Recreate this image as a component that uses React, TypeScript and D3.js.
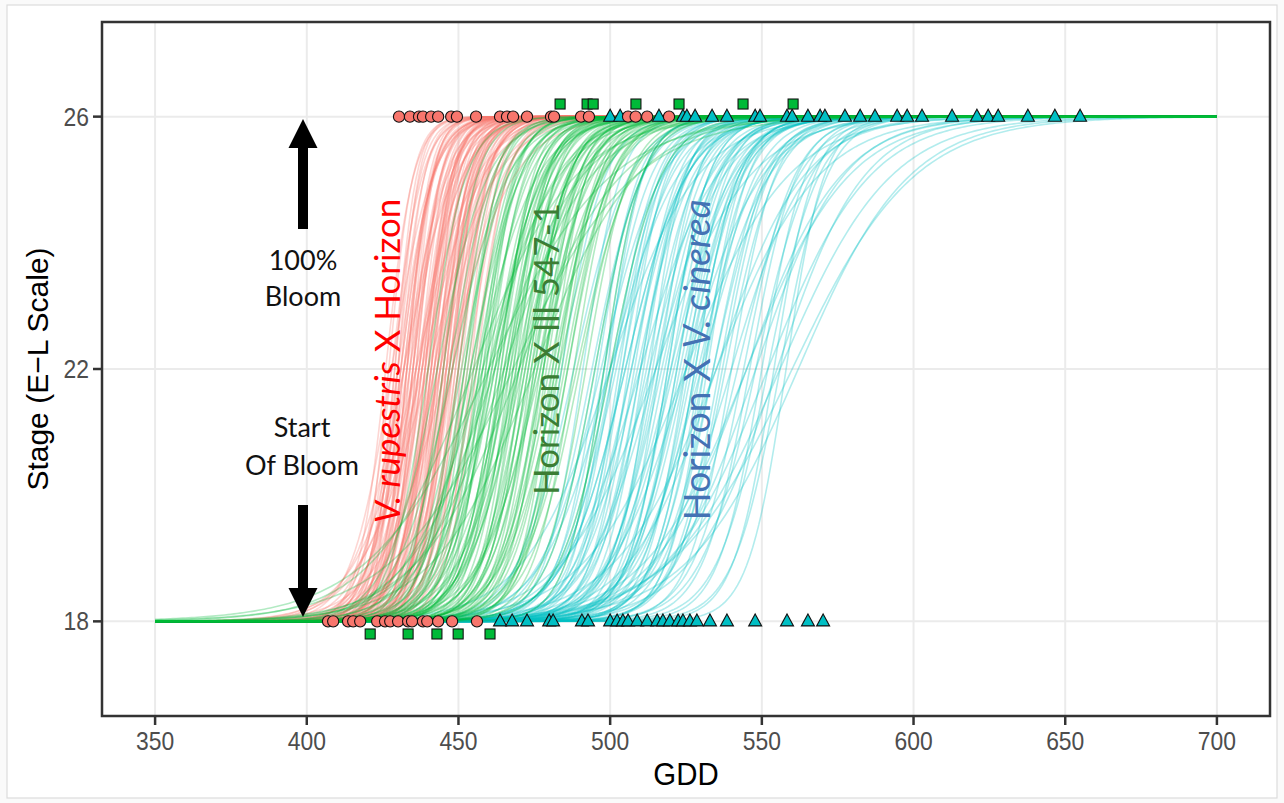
import React from "react";
import * as d3 from "d3";

// ---------- axes ----------
const xTickValues = [350, 400, 450, 500, 550, 600, 650, 700];
const yTickValues = [18, 22, 26];
const xTitle = "GDD";
const yTitle = "Stage (E\u2212L Scale)";

// ---------- observed points (GDD) ----------
const START_STAGE = 18;
const FULL_STAGE = 26;
const ILL_START_STAGE = 17.8;
const ILL_FULL_STAGE = 26.2;

const rupestrisFullGDD = [430.4, 434.0, 437.0, 438.3, 441.0, 443.3, 447.6, 449.5, 455.8, 463.7, 466.0, 468.0, 472.6, 480.5, 481.5, 490.4, 493.0, 505.9, 508.4, 512.2, 519.4];
const rupestrisStartGDD = [407.0, 408.7, 413.6, 415.3, 417.6, 423.2, 425.8, 427.5, 430.1, 433.4, 434.7, 438.3, 439.7, 443.3, 447.9, 456.1];
const illFullGDD = [483.5, 492.4, 494.4, 508.5, 522.7, 543.8, 560.3];
const illStartGDD = [420.9, 433.4, 442.9, 449.9, 460.4];
const cinereaFullGDD = [500.0, 503.3, 516.1, 524.0, 525.3, 528.0, 533.6, 538.5, 547.8, 549.4, 558.3, 560.0, 565.2, 569.2, 570.8, 577.4, 582.4, 587.3, 594.6, 597.9, 602.8, 612.7, 620.9, 624.6, 627.9, 637.7, 646.6, 654.9];
const cinereaStartGDD = [463.7, 467.7, 472.6, 479.9, 481.2, 490.7, 492.7, 500.0, 502.3, 504.2, 505.9, 508.9, 512.2, 515.5, 517.4, 519.7, 522.4, 524.0, 526.3, 528.6, 532.9, 538.5, 547.8, 558.3, 565.2, 570.2];

// ---------- fitted curve draws: GDD at stage 22 and logistic rate ----------
const rupestrisMid = [
  426, 427, 428, 428, 429, 430, 430, 431, 431, 432, 432, 433, 433, 434, 434, 435, 435, 436, 436, 437,
  437, 438, 438, 439, 439, 440, 440, 441, 441, 442, 442, 443, 443, 444, 444, 445, 445, 446, 446, 447,
  447, 448, 448, 449, 450, 450, 451, 452, 453, 454, 455, 456, 436, 440, 444, 432, 438, 446, 442, 448,
  429, 431, 433, 435, 437, 439, 441, 443, 445, 447, 449, 430, 432, 434, 436, 438, 440, 442, 444, 446,
  448, 450, 435, 437, 439, 441, 443, 445, 433, 447,
];
const rupestrisRate = [
  0.22, 0.25, 0.15, 0.2, 0.28, 0.17, 0.23, 0.19, 0.26, 0.14, 0.21, 0.24, 0.16, 0.2, 0.27, 0.18, 0.22, 0.13, 0.25, 0.19,
  0.23, 0.17, 0.21, 0.26, 0.15, 0.2, 0.24, 0.18, 0.22, 0.16, 0.28, 0.19, 0.23, 0.14, 0.21, 0.25, 0.17, 0.2, 0.24, 0.18,
  0.22, 0.15, 0.26, 0.19, 0.21, 0.17, 0.23, 0.2, 0.16, 0.22, 0.18, 0.2, 0.1, 0.09, 0.11, 0.12, 0.1, 0.09, 0.13, 0.12,
  0.24, 0.19, 0.27, 0.21, 0.16, 0.23, 0.18, 0.25, 0.2, 0.17, 0.22, 0.29, 0.2, 0.15, 0.24, 0.19, 0.26, 0.17, 0.21, 0.23,
  0.18, 0.2, 0.3, 0.14, 0.22, 0.27, 0.16, 0.19, 0.25, 0.21,
];

const illMid = [
  440, 443, 445, 447, 448, 450, 451, 452, 453, 454, 455, 456, 456, 457, 458, 459, 460, 460, 461, 462,
  463, 464, 465, 465, 466, 467, 468, 469, 470, 470, 471, 472, 473, 474, 475, 475, 476, 477, 478, 479,
  480, 481, 482, 483, 484, 486, 488, 490, 492, 495, 498, 500, 455, 460, 465, 470, 458, 462, 468, 475,
  452, 454, 457, 459, 461, 463, 466, 468, 471, 473, 476, 478, 481, 483, 486, 458, 462, 466, 470, 474,
  478, 482, 464, 467, 469, 472, 460, 477, 485, 489,
];
const illRate = [
  0.16, 0.12, 0.18, 0.14, 0.11, 0.17, 0.13, 0.15, 0.19, 0.12, 0.16, 0.14, 0.1, 0.18, 0.13, 0.15, 0.11, 0.17, 0.14, 0.12,
  0.16, 0.19, 0.13, 0.15, 0.11, 0.17, 0.14, 0.12, 0.16, 0.1, 0.18, 0.13, 0.15, 0.12, 0.17, 0.14, 0.11, 0.16, 0.13, 0.15,
  0.12, 0.18, 0.14, 0.11, 0.16, 0.13, 0.15, 0.12, 0.14, 0.13, 0.16, 0.12, 0.06, 0.05, 0.07, 0.06, 0.08, 0.07, 0.05, 0.06,
  0.17, 0.13, 0.15, 0.2, 0.12, 0.16, 0.14, 0.18, 0.11, 0.15, 0.13, 0.17, 0.12, 0.16, 0.14, 0.19, 0.13, 0.15, 0.12, 0.17,
  0.14, 0.13, 0.16, 0.12, 0.18, 0.14, 0.09, 0.1, 0.13, 0.11,
];

const cinereaMid = [
  484, 488, 491, 494, 496, 497, 498, 499, 500, 501, 502, 503, 504, 505, 506, 507, 508, 509, 510, 511,
  512, 513, 514, 515, 516, 517, 518, 519, 520, 521, 522, 523, 524, 525, 526, 527, 528, 529, 530, 531,
  532, 534, 536, 538, 540, 542, 544, 546, 548, 550, 552, 554, 556, 558, 500, 515, 525, 535, 545, 555,
  495, 498, 501, 504, 507, 510, 513, 516, 519, 522, 525, 528, 531, 534, 537, 500, 505, 510, 515, 520,
  525, 530, 540, 548, 552, 556, 560, 562, 545, 535,
];
const cinereaRate = [
  0.14, 0.11, 0.16, 0.12, 0.15, 0.1, 0.13, 0.17, 0.12, 0.14, 0.11, 0.15, 0.13, 0.1, 0.16, 0.12, 0.14, 0.11, 0.13, 0.15,
  0.12, 0.1, 0.14, 0.13, 0.16, 0.11, 0.12, 0.15, 0.13, 0.1, 0.14, 0.12, 0.11, 0.15, 0.13, 0.12, 0.14, 0.1, 0.13, 0.12,
  0.15, 0.11, 0.13, 0.12, 0.14, 0.1, 0.12, 0.13, 0.11, 0.14, 0.12, 0.15, 0.13, 0.16, 0.07, 0.065, 0.06, 0.06, 0.065, 0.07,
  0.13, 0.16, 0.12, 0.15, 0.11, 0.14, 0.17, 0.12, 0.15, 0.13, 0.11, 0.14, 0.16, 0.12, 0.13, 0.09, 0.1, 0.08, 0.09, 0.1,
  0.08, 0.09, 0.08, 0.07, 0.06, 0.055, 0.05, 0.055, 0.06, 0.07,
];

const GDD_MIN = 350;
const GDD_MAX = 700;

const RED = "#F8766D";
const GREEN = "#00BA38";
const CYAN = "#00BFC4";

// ---------- layout ----------
const W = 1284;
const H = 803;
const P = { left: 102, right: 1270, top: 22, bottom: 716 };

const x = d3.scaleLinear().domain([332.5, 717.5]).range([P.left, P.right]);
const y = d3.scaleLinear().domain([16.5, 27.5]).range([P.bottom, P.top]);

const samples = d3.range(GDD_MIN, GDD_MAX + 0.001, 1);
const logistic = (g: number, m: number, k: number) =>
  START_STAGE + (FULL_STAGE - START_STAGE) / (1 + Math.exp(-k * (g - m)));

function curvePath(m: number, k: number) {
  return d3
    .line<number>()
    .x((g) => x(g))
    .y((g) => y(logistic(g, m, k)))(samples) as string;
}

function Curves({ mids, rates, color }: { mids: number[]; rates: number[]; color: string }) {
  return (
    <g fill="none" stroke={color} strokeOpacity={0.3} strokeWidth={1.6}>
      {mids.map((m, i) => (
        <path key={i} d={curvePath(m, rates[i])} />
      ))}
    </g>
  );
}

function Tri({ cx, cy }: { cx: number; cy: number }) {
  const w = 13;
  const h = 12;
  const d = `M${cx},${cy - h * 0.62}L${cx + w / 2},${cy + h * 0.38}L${cx - w / 2},${cy + h * 0.38}Z`;
  return <path d={d} fill={CYAN} stroke="#111" strokeWidth={1.1} />;
}

const tickFont = "'Liberation Sans', Arial, sans-serif";
const annFont = "Lato, 'Open Sans', sans-serif";

export default function App() {
  return (
    <svg
      width={W}
      height={H}
      style={{ position: "absolute", left: 0, top: 0, display: "block" }}
    >
      <rect x={0} y={0} width={W} height={H} fill="#fafafa" />
      <rect x={7} y={5} width={1270} height={793} fill="#ffffff" stroke="#dcdcdc" strokeWidth={1.2} />
      <defs>
        <clipPath id="panel">
          <rect x={P.left} y={P.top} width={P.right - P.left} height={P.bottom - P.top} />
        </clipPath>
      </defs>

      {/* grid */}
      <g stroke="#ebebeb" strokeWidth={2}>
        {xTickValues.map((t) => (
          <line key={t} x1={x(t)} x2={x(t)} y1={P.top} y2={P.bottom} />
        ))}
        {yTickValues.map((t) => (
          <line key={t} x1={P.left} x2={P.right} y1={y(t)} y2={y(t)} />
        ))}
      </g>

      <g clipPath="url(#panel)">
        <Curves mids={rupestrisMid} rates={rupestrisRate} color={RED} />
        <Curves mids={cinereaMid} rates={cinereaRate} color={CYAN} />
        <Curves mids={illMid} rates={illRate} color={GREEN} />
      </g>

      {/* points */}
      <g>
        {cinereaFullGDD.map((g, i) => (
          <Tri key={"cf" + i} cx={x(g)} cy={y(FULL_STAGE)} />
        ))}
        {cinereaStartGDD.map((g, i) => (
          <Tri key={"cs" + i} cx={x(g)} cy={y(START_STAGE)} />
        ))}
        {rupestrisFullGDD.map((g, i) => (
          <circle key={"rf" + i} cx={x(g)} cy={y(FULL_STAGE)} r={5.6} fill={RED} stroke="#111" strokeWidth={1.1} />
        ))}
        {rupestrisStartGDD.map((g, i) => (
          <circle key={"rs" + i} cx={x(g)} cy={y(START_STAGE)} r={5.6} fill={RED} stroke="#111" strokeWidth={1.1} />
        ))}
        {illFullGDD.map((g, i) => (
          <rect key={"if" + i} x={x(g) - 5} y={y(ILL_FULL_STAGE) - 5} width={10} height={10} fill={GREEN} stroke="#111" strokeWidth={1.1} />
        ))}
        {illStartGDD.map((g, i) => (
          <rect key={"is" + i} x={x(g) - 5} y={y(ILL_START_STAGE) - 5} width={10} height={10} fill={GREEN} stroke="#111" strokeWidth={1.1} />
        ))}
      </g>

      {/* arrows */}
      <path d="M303,119L317.5,148L308,148L308,229L298,229L298,148L288.5,148Z" fill="#000" />
      <path d="M303,617L317.5,588L308,588L308,505L298,505L298,588L288.5,588Z" fill="#000" />

      <g fontFamily={annFont} fontSize={27} textAnchor="middle" fill="#111">
        <text x={303} y={270}>100%</text>
        <text x={303} y={306}>Bloom</text>
        <text x={302} y={437}>Start</text>
        <text x={302} y={475}>Of Bloom</text>
      </g>

      {/* rotated group labels */}
      <text
        transform="translate(400,361) rotate(-90)"
        textAnchor="middle"
        fontFamily={annFont}
        fontSize={35}
        fill="#FF0000"
      >
        <tspan fontStyle="italic">V. rupestris</tspan>
        <tspan> X Horizon</tspan>
      </text>
      <text
        transform="translate(559,349) rotate(-90)"
        textAnchor="middle"
        fontFamily={annFont}
        fontSize={35}
        fill="#3B7D34"
      >
        Horizon X Ill 547-1
      </text>
      <text
        transform="translate(710,360) rotate(-90)"
        textAnchor="middle"
        fontFamily={annFont}
        fontSize={37}
        fill="#4472B4"
      >
        <tspan>Horizon X </tspan>
        <tspan fontStyle="italic">V. cinerea</tspan>
      </text>

      {/* panel border */}
      <rect
        x={P.left}
        y={P.top}
        width={P.right - P.left}
        height={P.bottom - P.top}
        fill="none"
        stroke="#333"
        strokeWidth={2.5}
      />

      {/* x axis */}
      <g>
        {xTickValues.map((t) => (
          <g key={t}>
            <line x1={x(t)} x2={x(t)} y1={P.bottom} y2={P.bottom + 9} stroke="#333" strokeWidth={2.5} />
            <text
              transform={`translate(${x(t)},${750}) scale(0.88,1)`}
              textAnchor="middle"
              fontFamily={tickFont}
              fontSize={26}
              fill="#4d4d4d"
            >
              {t}
            </text>
          </g>
        ))}
      </g>
      {/* y axis */}
      <g>
        {yTickValues.map((t) => (
          <g key={t}>
            <line x1={P.left - 9} x2={P.left} y1={y(t)} y2={y(t)} stroke="#333" strokeWidth={2.5} />
            <text
              transform={`translate(${89},${y(t) + 9}) scale(0.88,1)`}
              textAnchor="end"
              fontFamily={tickFont}
              fontSize={26}
              fill="#4d4d4d"
            >
              {t}
            </text>
          </g>
        ))}
      </g>

      <text
        transform={`translate(686,785) scale(0.92,1)`}
        textAnchor="middle"
        fontFamily={tickFont}
        fontSize={32}
        fill="#000"
      >
        {xTitle}
      </text>
      <text
        transform={`translate(48,369) rotate(-90)`}
        textAnchor="middle"
        fontFamily={tickFont}
        fontSize={30}
        fill="#000"
      >
        {yTitle}
      </text>
    </svg>
  );
}
